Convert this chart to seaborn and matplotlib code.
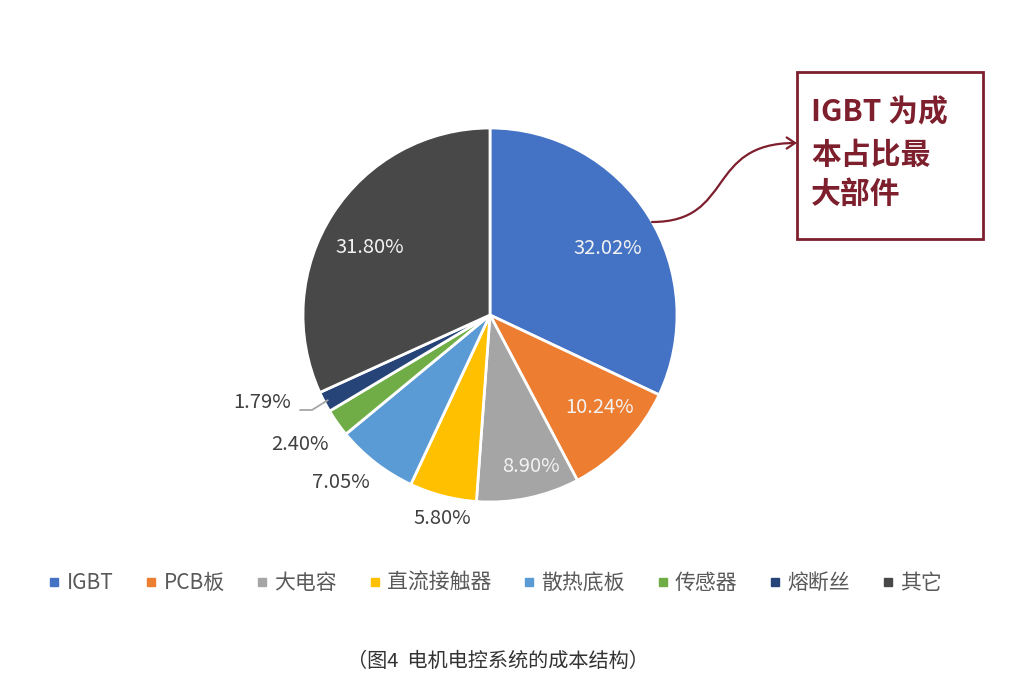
import numpy as np
import matplotlib
matplotlib.use("Agg")
import matplotlib.pyplot as plt
import seaborn as sns
from matplotlib.lines import Line2D
from matplotlib.patches import Rectangle, FancyArrowPatch
from matplotlib.path import Path

# data
parts = ["IGBT", "PCB板", "大电容", "直流接触器", "散热底板", "传感器", "熔断丝", "其它"]
shares = [32.02, 10.24, 8.90, 5.80, 7.05, 2.40, 1.79, 31.80]
colors = ["#4472C4", "#ED7D31", "#A5A5A5", "#FFC000", "#5B9BD5", "#70AD47", "#264478", "#484848"]

# label placement: radius factor, angle nudge (deg), inside/outside
label_r = [0.72, 0.77, 0.84, 1.12, 1.20, 1.23, 1.305, 0.735]
label_shift = [-3, 3.5, 3.3, 1.4, -4, -1, -6.8, 3.5]
label_inside = [True, True, True, False, False, False, False, True]

sns.set_theme(style="white")
plt.rcParams["font.family"] = ["Noto Sans CJK SC", "DejaVu Sans"]

W, H = 1021, 691
fig = plt.figure(figsize=(W / 100, H / 100), dpi=100)
fig.patch.set_facecolor("white")

def fx(px):
    return px / W

def fy(py):
    return 1 - py / H

# pie axes: centre (490, 315), radius 187 px
ax = fig.add_axes([fx(303), fy(502), 374 / W, 374 / H])

wedges, _ = ax.pie(shares, colors=colors, startangle=90, counterclock=False,
                   radius=1, wedgeprops=dict(edgecolor="white", linewidth=2))
ax.set_xlim(-1, 1)
ax.set_ylim(-1, 1)
ax.axis("off")

for w, val, r, sh, inside in zip(wedges, shares, label_r, label_shift, label_inside):
    mid = np.deg2rad((w.theta1 + w.theta2) / 2 + sh)
    x, y = r * np.cos(mid), r * np.sin(mid)
    txt = f"{val:.2f}%"
    col = "#F2F2F2" if inside else "#404040"
    ax.text(x, y, txt, ha="center", va="center", color=col, fontsize=14.5)

# leader line for the smallest slice
w = wedges[6]
mid = np.deg2rad((w.theta1 + w.theta2) / 2)
ex, ey = 0.98 * np.cos(mid), 0.98 * np.sin(mid)
ax.plot([ex, -0.952, -1.016], [ey, -0.508, -0.508], color="#A6A6A6", lw=1.3,
        clip_on=False)

# legend
handles = [Line2D([], [], marker="s", linestyle="none", markersize=6, color=c) for c in colors]
fig.legend(handles, parts, loc="center", bbox_to_anchor=(fx(495), fy(583)), ncol=8,
           frameon=False, fontsize=15, handlelength=0.6, handletextpad=0.3,
           columnspacing=1.5, labelcolor="#595959")

# callout box
maroon = "#7E1F2D"
fig.patches.append(Rectangle((fx(797), fy(239)), fx(983) - fx(797), fy(72) - fy(239),
                             transform=fig.transFigure, fill=False, edgecolor=maroon, lw=2))
fig.text(fx(811), fy(112), "IGBT 为成", color=maroon, fontsize=21.5, fontweight="bold",
         ha="left", va="center")
fig.text(fx(811), fy(155), "本占比最", color=maroon, fontsize=21.5, fontweight="bold",
         ha="left", va="center")
fig.text(fx(811), fy(194), "大部件", color=maroon, fontsize=21.5, fontweight="bold",
         ha="left", va="center")

verts = [(fx(652), fy(222)), (fx(735), fy(222)), (fx(705), fy(143)), (fx(797), fy(143))]
path = Path(verts, [Path.MOVETO, Path.CURVE4, Path.CURVE4, Path.CURVE4])
arrow = FancyArrowPatch(path=path, arrowstyle="->,head_length=6,head_width=4",
                        color=maroon, lw=1.6, transform=fig.transFigure)
fig.patches.append(arrow)

# caption
fig.text(fx(498), fy(661), "（图4  电机电控系统的成本结构）", ha="center", va="center",
         fontsize=14.5, color="#333333")

fig.savefig("out.png", dpi=100, facecolor="white")
